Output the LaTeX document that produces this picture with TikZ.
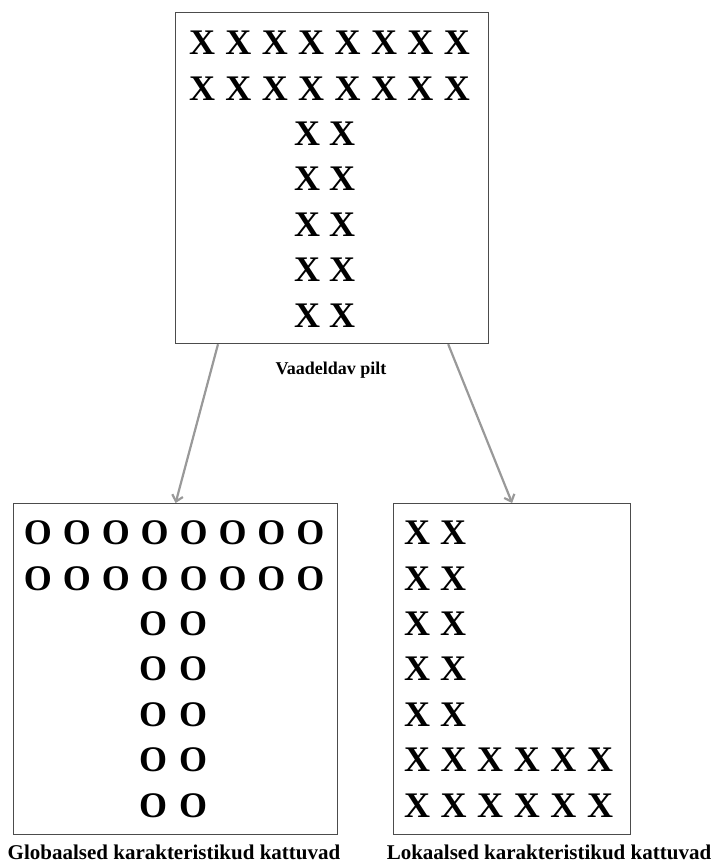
\documentclass[tikz,border=0pt]{standalone}
\usepackage{fontspec}
\setmainfont{Liberation Serif}
\usepackage{tikz}
\usetikzlibrary{arrows.meta,calc}

\begin{document}
\begin{tikzpicture}[x=1pt,y=-1pt,
	every node/.style={inner sep=0pt},
	frame/.style={draw=black!70,line width=1.2pt,minimum width=#1,anchor=north west},
	letter/.style={font=\bfseries\fontsize{36}{36}\selectfont},
	caption/.style={font=\bfseries\fontsize{#1}{#1}\selectfont}]
	\useasboundingbox (0,0) rectangle (716,868);

	%% the three frames
	\node[frame=313pt,minimum height=331pt] (seen) at (175,12) {};
	\node[frame=324pt,minimum height=331pt] (global) at (13,503) {};
	\node[frame=237pt,minimum height=331pt] (local) at (393,503) {};

	\def\dy{45.4} % row step
	
	% top picture: T made of X
	\foreach \r in {0,1}
		\foreach \c in {0,...,7}
			\node[letter] at (202+36.4*\c,43+\dy*\r) {X};
	\foreach \r in {2,...,6}{
		\node[letter] at (307,43+\dy*\r) {X};
		\node[letter] at (342,43+\dy*\r) {X};
	}

	% left: same T made of O
	\foreach \r in {0,1}
		\foreach \c in {0,...,7}
			\node[letter] at (38+38.9*\c,533+\dy*\r) {O};
	\foreach \r in {2,...,6}{
		\node[letter] at (153,533+\dy*\r) {O};
		\node[letter] at (193,533+\dy*\r) {O};
	}

	% right: L made of X
	\foreach \r in {0,...,4}{
		\node[letter] at (417,533+\dy*\r) {X};
		\node[letter] at (453,533+\dy*\r) {X};
	}
	\foreach \r in {5,6}
		\foreach \c in {0,...,5}
			\node[letter] at (417+36.6*\c,533+\dy*\r) {X};

	\draw[arrows={-Straight Barb[length=6pt,width=11pt]},gray!80,line width=2.2pt] ($(seen.south west)+(43,0)$) -- (global.north);
	\draw[arrows={-Straight Barb[length=6pt,width=11pt]},gray!80,line width=2.2pt] ($(seen.south east)+(-41,0)$) -- (local.north);

	\node[caption=18] (why0) at (331,370) {Vaadeldav pilt};
	\node[caption=21] (why1) at (174,852) {Globaalsed karakteristikud kattuvad};
	\node[caption=21] (why2) at (549,852) {Lokaalsed karakteristikud kattuvad};
\end{tikzpicture}
\end{document}
